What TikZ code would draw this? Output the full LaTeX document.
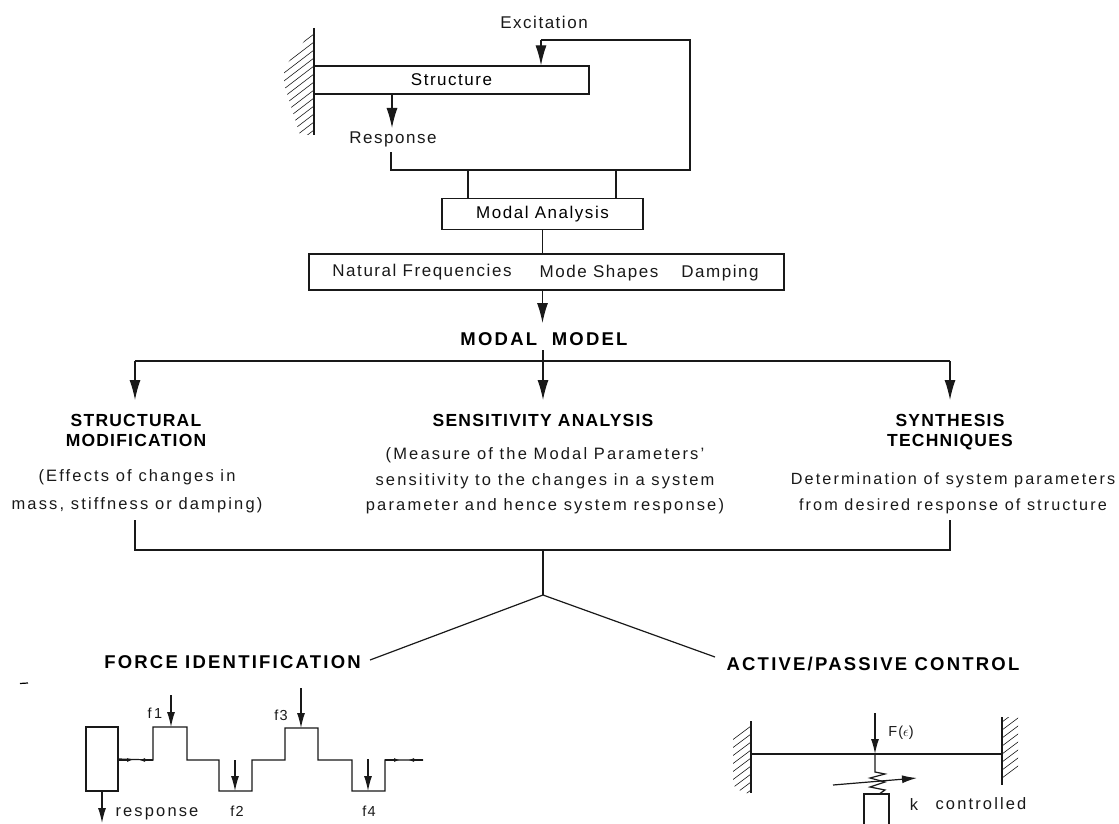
\documentclass[tikz,border=0pt]{standalone}
\usepackage{fontspec}
\setmainfont[LetterSpace=9]{Liberation Sans}
\usetikzlibrary{arrows.meta}
\tikzset{
  ink/.style={line width=1.2pt, color=black!90},
  bigarrow/.style={ink, -{Latex[length=20pt,width=11pt]}},
  midarrow/.style={ink, -{Latex[length=15pt,width=8pt]}},
  tinyarrow/.style={ink, -{Latex[length=6pt,width=4pt]}},
  hatch/.style={line width=0.6pt, color=black!90},
  boxnode/.style={draw, ink, inner sep=0pt, text=black},
  plain/.style={inner sep=0pt, font=\fontsize{17}{20}\selectfont, text=black!90},
  label/.style={inner sep=0pt, font=\fontsize{14.5}{17}\selectfont, text=black!90},
  small/.style={inner sep=0pt, font=\fontsize{16.5}{19}\selectfont\addfontfeature{LetterSpace=13}, text=black!90, align=center},
  head/.style={inner sep=0pt, font=\fontsize{17.5}{20}\selectfont\bfseries\addfontfeature{LetterSpace=7}, text=black, align=center},
  bighead/.style={inner sep=0pt, font=\fontsize{18.5}{20}\selectfont\bfseries\addfontfeature{LetterSpace=12}, text=black}
}
\begin{document}
\begin{tikzpicture}[x=1pt,y=-1pt]
  \useasboundingbox (0,0) rectangle (1119,824);
  % top part
  \node[plain] (excitation) at (544,22) {Excitation};
  \node[boxnode, minimum width=275pt, minimum height=28pt, font=\fontsize{17}{20}\selectfont] (structure) at (451.5,80) {Structure};
  \node[plain] (response) at (393,139) {Response};
  \node[boxnode, minimum width=201pt, minimum height=31pt, font=\fontsize{17}{20}\selectfont] (modal) at (542.5,214) {Modal Analysis};
  \node[boxnode, minimum width=475pt, minimum height=36pt] (params) at (546.5,272) {};
  \node[plain] (natural) at (422,272) {Natural Frequencies};
  \node[plain] (shapes) at (599,273) {Mode Shapes};
  \node[plain] (damping) at (720,273) {Damping};
  \node[bighead] (model) at (544,339) {MODAL\ \ MODEL};
  \coordinate (excite) at (541,40);
  \coordinate (loopa) at (690,40);
  \coordinate (loopb) at (690,170);
  \coordinate (loopc) at (391,170);
  \coordinate (loopd) at (391,152);
  \coordinate (tapa) at (468,170);
  \coordinate (tapb) at (616,170);
  \coordinate (pick) at (392,94);
  \coordinate (pickend) at (392,128);
  \coordinate (modeltip) at (542.5,323);
  \draw[ink] (excite) -- (loopa) -- (loopb) -- (loopc) -- (loopd);
  \draw[bigarrow] (excite) -- (excite |- structure.north);
  \draw[bigarrow] (pick) -- (pickend);
  \draw[ink] (tapa) -- (tapa |- modal.north);
  \draw[ink] (tapb) -- (tapb |- modal.north);
  \draw[ink] (modal.south) -- (modal.south |- params.north);
  \draw[bigarrow] (modal.south |- params.south) -- (modeltip);
  % fixed end of the structure
  \begin{scope}
    \clip (314,28) -- (284,68) -- (284,84) -- (300,135) -- (314,135) -- cycle;
    \foreach \y in {26,34,...,138}
      \draw[hatch] (314,\y) -- ++(-34,26);
  \end{scope}
  \draw[ink] (314,28) -- (314,135);
  % three branches
  \node[head] (structural) at (136,430) {STRUCTURAL\\MODIFICATION};
  \node[head] (sensitivity) at (543,420) {SENSITIVITY ANALYSIS};
  \node[head] (synthesis) at (950,432) {SYNTHESIS\\TECHNIQUES};
  \node[small] (effects) at (137,491) {(Effects of changes in\\[9pt]mass, stiffness or damping)};
  \node[small] (measure) at (545,481) {(Measure of the Modal Parameters'\\[6.5pt]sensitivity to the changes in a system\\[6.5pt]parameter and hence system response)};
  \node[small, font=\fontsize{16.2}{19}\selectfont\addfontfeature{LetterSpace=13}] (determine) at (953,493) {Determination of system parameters\\[7pt]from desired response of structure};
  \coordinate (barl) at (135,361);
  \coordinate (barm) at (543,350);
  \coordinate (barr) at (950,361);
  \coordinate (arrowl) at (135,400);
  \coordinate (arrowm) at (543,400);
  \coordinate (arrowr) at (950,400);
  \draw[ink] (barl) -- (barr);
  \draw[bigarrow] (barl) -- (arrowl);
  \draw[bigarrow] (barm) -- (arrowm);
  \draw[bigarrow] (barr) -- (arrowr);
  % collecting bracket
  \coordinate (brackl) at (135,520);
  \coordinate (brackr) at (950,520);
  \coordinate (brackm) at (543,550);
  \coordinate (apex) at (543,595);
  \draw[ink] (brackl) -- (brackl |- brackm) -- (brackr |- brackm) -- (brackr);
  \draw[ink] (brackm) -- (apex);
  \node[bighead] (force) at (232.5,662) {FORCE IDENTIFICATION};
  \node[bighead] (control) at (873,664) {ACTIVE/PASSIVE CONTROL};
  \draw[ink] (apex) -- (370,660);
  \draw[ink] (apex) -- (715,657);
  \draw[line width=1.2pt] (20,683.5) -- (28,683);
  % force identification sketch
  \node[boxnode, minimum width=32pt, minimum height=64pt] (mass) at (102,759) {};
  \draw[ink] (mass.east) -- (153,760) -- (153,727) -- (187,727) -- (187,760) -- (219,760)
    -- (219,791) -- (252,791) -- (252,760) -- (285,760) -- (285,728) -- (318,728)
    -- (318,760) -- (352,760) -- (352,791) -- (385,791) -- (385,760) -- (423,760);
  \draw[tinyarrow] (119,760) -- (133,760);
  \draw[tinyarrow] (153,760) -- (139,760);
  \draw[tinyarrow] (385,760) -- (400,760);
  \draw[tinyarrow] (423,760) -- (408,760);
  \draw[midarrow] (171,695) -- (171,727);
  \draw[midarrow] (301,688) -- (301,728);
  \draw[midarrow] (235,760) -- (235,791);
  \draw[midarrow] (368,759) -- (368,791);
  \draw[midarrow] (mass.south) -- (102,823);
  \node[label] (fa) at (155,713) {f\,1};
  \node[label] (fb) at (237,811) {f2};
  \node[label] (fc) at (281,715) {f3};
  \node[label] (fd) at (369,811) {f4};
  \node[small] (resp) at (157,814) {response};
  % active control sketch
  \begin{scope}
    \clip (751,721) -- (733,738) -- (733,785) -- (743,793) -- (751,793) -- cycle;
    \foreach \y in {718,726,...,795}
      \draw[hatch] (751,\y) -- ++(-20,15);
  \end{scope}
  \begin{scope}
    \clip (1002,717) -- (1018,717) -- (1018,772) -- (1002,785) -- cycle;
    \foreach \y in {722,730,...,792}
      \draw[hatch] (1002,\y) -- ++(20,-15);
  \end{scope}
  \coordinate (walll) at (751,754);
  \coordinate (wallr) at (1002,754);
  \coordinate (load) at (875,754);
  \draw[ink] (751,721) -- (751,793);
  \draw[ink] (1002,717) -- (1002,785);
  \draw[ink] (walll) -- (wallr);
  \draw[midarrow] (875,713) -- (load);
  \node[label] (loadtext) at (901,733) {F($\epsilon$)};
  \node[boxnode, minimum width=25pt, minimum height=40pt] (post) at (876.5,814) {};
  \draw[ink] (load) -- (875,772) -- (885,774) -- (870,778) -- (885,782) -- (870,787) -- (885,790) -- (post.north -| 880,0);
  \draw[midarrow] (833,785) -- (917,778);
  \node[small] (ktext) at (914,805) {k};
  \node[small] (ctrl) at (981,804) {controlled};
\end{tikzpicture}
\end{document}
